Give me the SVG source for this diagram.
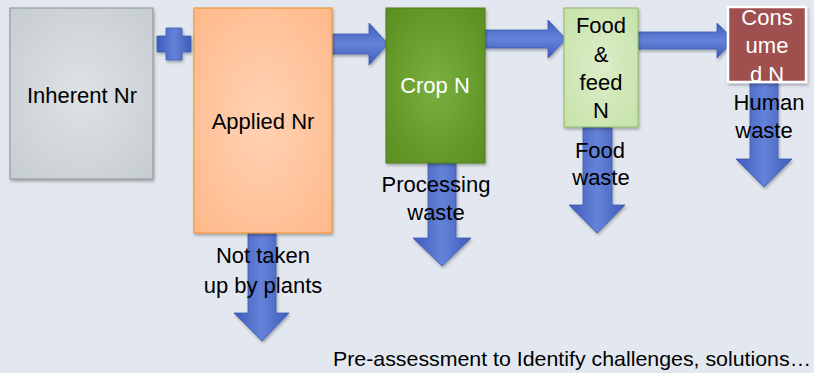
<svg xmlns="http://www.w3.org/2000/svg" width="814" height="373" viewBox="0 0 814 373">
<style>
text{font-family:"Liberation Sans",Arial,sans-serif;font-size:22px;fill:#000;text-anchor:middle}
.w{fill:#fff}
.arr{fill:url(#gh);stroke:#3d5ab0;stroke-width:0.8}
.arrv{fill:url(#gv);stroke:#3d5ab0;stroke-width:0.8}
</style>
<defs>
<linearGradient id="gv" x1="0" y1="0" x2="1" y2="0"><stop offset="0" stop-color="#3f5bbd"/><stop offset="0.5" stop-color="#6483d8"/><stop offset="1" stop-color="#3f5bbd"/></linearGradient>
<linearGradient id="gh" x1="0" y1="0" x2="0" y2="1"><stop offset="0" stop-color="#3f5bbd"/><stop offset="0.5" stop-color="#6483d8"/><stop offset="1" stop-color="#3f5bbd"/></linearGradient>
<radialGradient id="gGray" cx="0.5" cy="0.5" r="0.7"><stop offset="0" stop-color="#dde2e5"/><stop offset="1" stop-color="#c6cdd1"/></radialGradient>
<radialGradient id="gOr" cx="0.5" cy="0.5" r="0.7"><stop offset="0" stop-color="#ffd2b4"/><stop offset="1" stop-color="#ffb98a"/></radialGradient>
<radialGradient id="gGr" cx="0.5" cy="0.5" r="0.7"><stop offset="0" stop-color="#7ab040"/><stop offset="1" stop-color="#5a8e1e"/></radialGradient>
<radialGradient id="gLg" cx="0.5" cy="0.5" r="0.7"><stop offset="0" stop-color="#dcedc8"/><stop offset="1" stop-color="#c6e2a8"/></radialGradient>
<clipPath id="clipC"><rect x="729" y="8" width="76" height="73"/></clipPath>
<filter id="sh" x="-10%" y="-10%" width="130%" height="130%"><feDropShadow dx="1" dy="2" stdDeviation="1.5" flood-color="#000" flood-opacity="0.3"/></filter>
</defs>
<rect width="814" height="373" fill="#e3e8f0"/>

<g id="connectors">
<path class="arrv" filter="url(#sh)" d="M166 28H182V36H191V52H182V60H166V52H157V36H166Z"/>
<path class="arr" filter="url(#sh)" d="M331 34H369V23L388 44L369 65V54H331Z"/>
<path class="arr" filter="url(#sh)" d="M484 30H548V20L566 39L548 58V48H484Z"/>
<path class="arr" filter="url(#sh)" d="M637 32H717V23L734 40L717 58V49H637Z"/>
<path class="arrv" filter="url(#sh)" d="M248 233H276V313H289L262 341L234 313H248Z"/>
<path class="arrv" filter="url(#sh)" d="M428 163H456V238H471L442 266L413 238H428Z"/>
<path class="arrv" filter="url(#sh)" d="M583 127H612V205H625L597 233L569 205H583Z"/>
<path class="arrv" filter="url(#sh)" d="M750 82H778V159H792L764 187L736 159H750Z"/>
</g>

<g id="inherent">
<rect x="10" y="8" width="143" height="171" fill="url(#gGray)" stroke="#8a9296" stroke-width="1" filter="url(#sh)"/>
<text x="82" y="103">Inherent Nr</text>
</g>
<g id="applied">
<rect x="194" y="8" width="138" height="225" fill="url(#gOr)" stroke="#f0963c" stroke-width="1.2" filter="url(#sh)"/>
<text x="263" y="129">Applied Nr</text>
</g>
<g id="crop">
<rect x="386" y="8" width="99" height="155" fill="url(#gGr)" stroke="#4f7f1a" stroke-width="1" filter="url(#sh)"/>
<text class="w" x="435" y="93">Crop N</text>
</g>
<g id="food">
<rect x="564" y="8" width="74" height="119" fill="url(#gLg)" stroke="#8fb86a" stroke-width="1" filter="url(#sh)"/>
<text x="601" y="33">Food</text>
<text x="601" y="62">&amp;</text>
<text x="601" y="90">feed</text>
<text x="601" y="118">N</text>
</g>
<g id="consumed">
<rect x="728" y="7" width="78" height="75" fill="#a05050" stroke="#fff" stroke-width="2.5" filter="url(#sh)"/>
<g clip-path="url(#clipC)">
<text class="w" x="767" y="25">Cons</text>
<text class="w" x="767" y="53">ume</text>
<text class="w" x="767" y="82">d N</text>
</g>
</g>

<g id="labels">
<text x="769" y="110">Human</text>
<text x="764" y="138">waste</text>
<text x="600" y="158">Food</text>
<text x="601" y="185">waste</text>
<text x="436" y="192">Processing</text>
<text x="436" y="220">waste</text>
<text x="263" y="263">Not taken</text>
<text x="263" y="293">up by plants</text>
<text x="572" y="366" style="font-size:21px" textLength="478" lengthAdjust="spacingAndGlyphs">Pre-assessment to Identify challenges, solutions…</text>
</g>
</svg>
